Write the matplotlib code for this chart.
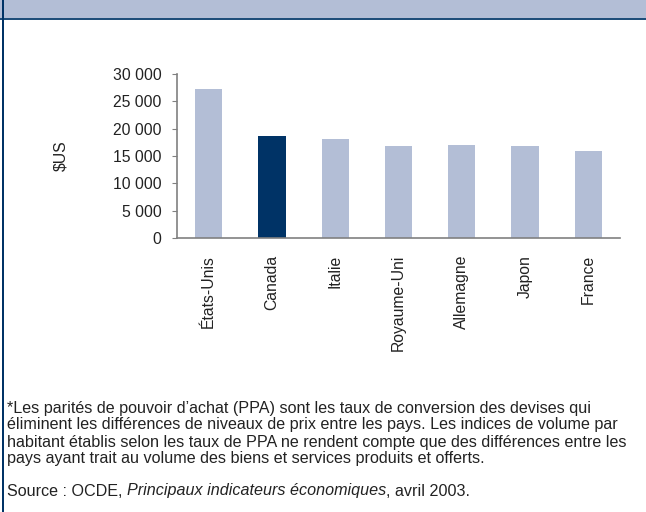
import matplotlib
matplotlib.use("Agg")
import matplotlib.pyplot as plt
from matplotlib.patches import Rectangle

countries = ["États-Unis", "Canada", "Italie", "Royaume-Uni", "Allemagne", "Japon", "France"]
values = [27200, 18700, 18200, 16900, 17100, 16900, 16000]
yticks = [0, 5000, 10000, 15000, 20000, 25000, 30000]
ytick_labels = ["0", "5 000", "10 000", "15 000", "20 000", "25 000", "30 000"]
highlight = "Canada"

light = "#B3BED6"
dark = "#003366"
W, H = 646, 512
plt.rcParams['font.family'] = ['Liberation Sans', 'DejaVu Sans']

fig = plt.figure(figsize=(W / 100, H / 100), dpi=100)

# header band and borders
fig.patches.append(Rectangle((0, 1 - 18 / H), 1, 18 / H, transform=fig.transFigure,
                             facecolor=light, edgecolor='none', zorder=0))
fig.patches.append(Rectangle((0, 1 - 20 / H), 1, 2.5 / H, transform=fig.transFigure,
                             facecolor="#1F4E7A", edgecolor='none', zorder=1))
fig.patches.append(Rectangle((2 / W, 0), 2 / W, 1, transform=fig.transFigure,
                             facecolor=dark, edgecolor='none', zorder=1))

fs = 11.3
ax = fig.add_axes([177 / W, 1 - 238 / H, (620 - 177) / W, (238 - 74) / H])
colors = [dark if c == highlight else light for c in countries]
x = range(len(countries))
ax.bar(x, values, width=0.43, color=colors)
ax.set_xlim(-0.5, len(countries) - 0.5)
ax.set_ylim(0, 30000)
ax.set_yticks(yticks)
ax.set_yticklabels(ytick_labels, fontsize=fs, color="#222222")
ax.set_xticks(list(x))
ax.set_xticklabels(countries, rotation=90, fontsize=fs, color="#222222")
ax.tick_params(axis='x', length=0, pad=12)
ax.tick_params(axis='y', length=3.8, color="#808080", pad=7.5)
for s in ['top', 'right']:
    ax.spines[s].set_visible(False)
for s in ['left', 'bottom']:
    ax.spines[s].set_color("#808080")
    ax.spines[s].set_linewidth(1.2)
ax.set_ylabel("$US", fontsize=fs, color="#222222")
ax.yaxis.set_label_coords((68 - 177) / 443, 0.5)

ffs = 11.6
lines = [
    "*Les parités de pouvoir d’achat (PPA) sont les taux de conversion des devises qui",
    "éliminent les différences de niveaux de prix entre les pays. Les indices de volume par",
    "habitant établis selon les taux de PPA ne rendent compte que des différences entre les",
    "pays ayant trait au volume des biens et services produits et offerts.",
]
for i, t in enumerate(lines):
    fig.text(7 / W, 1 - (408 + 17 * i) / H, t, fontsize=ffs, va='center', ha='left', color="#222222")

ys = 1 - 491 / H
t1 = fig.text(7 / W, ys, "Source : OCDE, ", fontsize=ffs, va='center', ha='left', color="#222222")
fig.canvas.draw()
r = fig.canvas.get_renderer()
bb = t1.get_window_extent(renderer=r)
t2 = fig.text(bb.x1 / W, ys, "Principaux indicateurs économiques", fontsize=ffs,
              va='center', ha='left', style='italic', color="#222222")
bb2 = t2.get_window_extent(renderer=r)
fig.text(bb2.x1 / W, ys, ", avril 2003.", fontsize=ffs, va='center', ha='left', color="#222222")

fig.savefig("out.png", dpi=100)
